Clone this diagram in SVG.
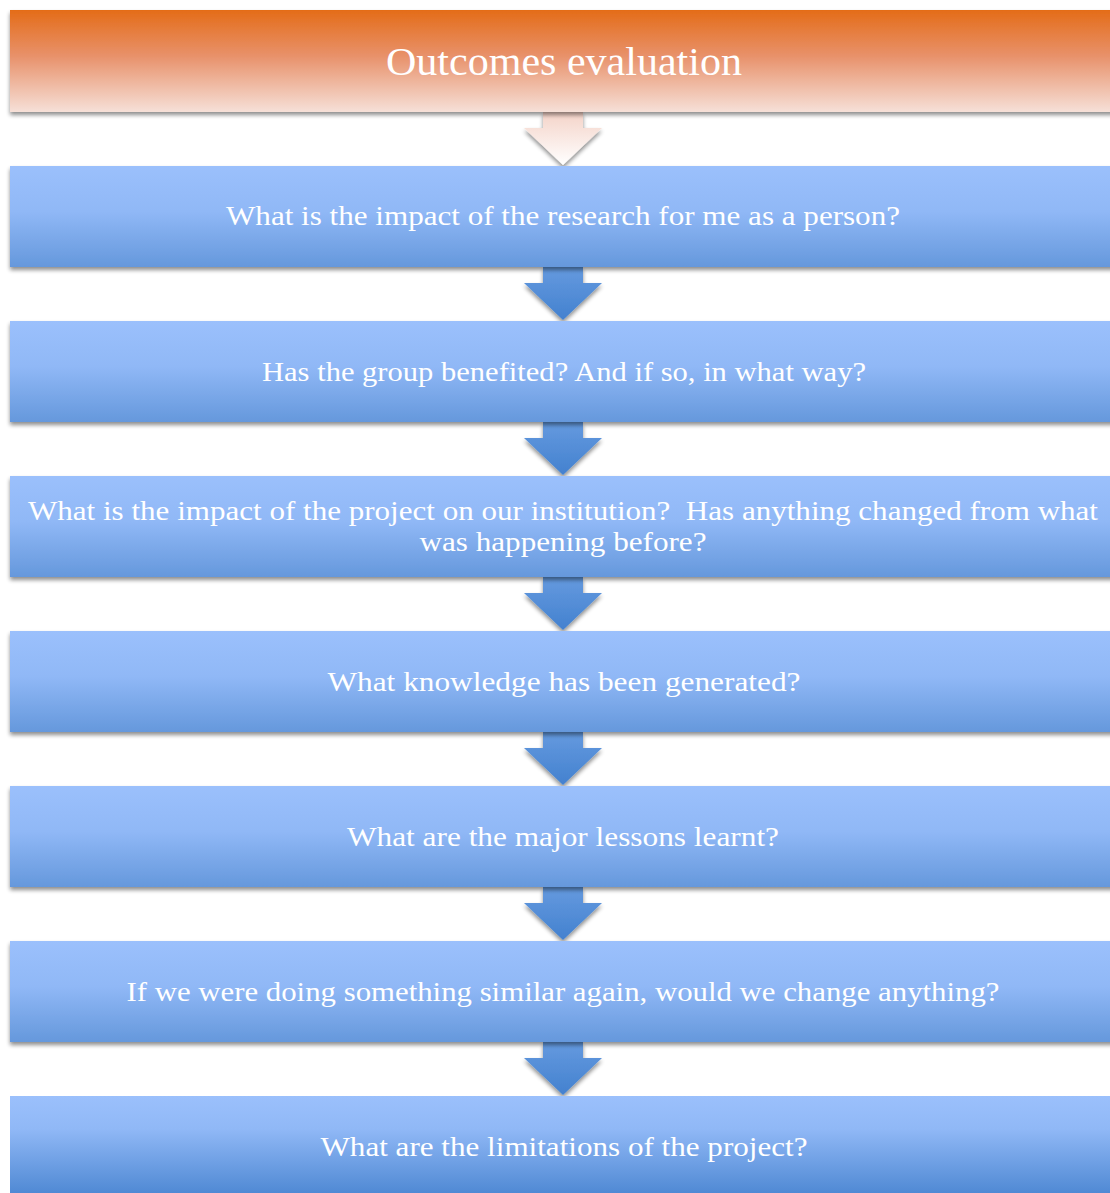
<svg xmlns="http://www.w3.org/2000/svg" width="1110" height="1193" viewBox="0 0 1110 1193">
  <defs>
    <linearGradient id="gOrange" x1="0" y1="0" x2="0" y2="1">
      <stop offset="0" stop-color="#E46C18"/>
      <stop offset="0.45" stop-color="#E8916A"/>
      <stop offset="1" stop-color="#F6E0D8"/>
    </linearGradient>
    <linearGradient id="gBlue" x1="0" y1="0" x2="0" y2="1">
      <stop offset="0" stop-color="#9BC0FC"/>
      <stop offset="0.45" stop-color="#90B8F6"/>
      <stop offset="1" stop-color="#6598DC"/>
    </linearGradient>
    <linearGradient id="gBlueLast" x1="0" y1="0" x2="0" y2="1">
      <stop offset="0" stop-color="#9BC0FC"/>
      <stop offset="0.3" stop-color="#90B8F6"/>
      <stop offset="1" stop-color="#4380CD"/>
    </linearGradient>
    <linearGradient id="gArrowTop" x1="0" y1="0" x2="0" y2="1">
      <stop offset="0" stop-color="#F4D3C8"/>
      <stop offset="1" stop-color="#FFFFFF"/>
    </linearGradient>
    <linearGradient id="gArrowBlue" x1="0" y1="0" x2="0" y2="1">
      <stop offset="0" stop-color="#659ADF"/>
      <stop offset="1" stop-color="#4381CF"/>
    </linearGradient>
    <filter id="shadow" x="-5%" y="-20%" width="110%" height="150%">
      <feGaussianBlur in="SourceAlpha" stdDeviation="2.2"/>
      <feOffset dx="0" dy="3" result="b"/>
      <feComponentTransfer><feFuncA type="linear" slope="0.45"/></feComponentTransfer>
      <feMerge><feMergeNode/><feMergeNode in="SourceGraphic"/></feMerge>
    </filter>
    <path id="arrow" d="M543,0 H583 V16 H602 L563,53 L524,16 H543 Z"/>
  </defs>
  <style>
    .box { fill: url(#gBlue); filter: url(#shadow); }
    .lbl { font-family: "Liberation Serif", "DejaVu Serif", serif; font-size: 28px; fill: #FFFFFF; text-anchor: middle; }
    .title { font-family: "Liberation Serif", "DejaVu Serif", serif; font-size: 40px; fill: #FFFFFF; text-anchor: middle; }
    .arr { fill: url(#gArrowBlue); filter: url(#shadow); }
  </style>

  <rect width="1110" height="1193" fill="#FFFFFF"/>

  <!-- connectors between stages -->
  <g id="connectors">
    <use href="#arrow" y="112" style="fill:url(#gArrowTop);filter:url(#shadow)"/>
    <use href="#arrow" y="267" class="arr"/>
    <use href="#arrow" y="422" class="arr"/>
    <use href="#arrow" y="577" class="arr"/>
    <use href="#arrow" y="732" class="arr"/>
    <use href="#arrow" y="887" class="arr"/>
    <use href="#arrow" y="1042" class="arr"/>
  </g>

  <g id="n0">
    <rect x="10" y="10" width="1110" height="102" fill="url(#gOrange)" filter="url(#shadow)"/>
    <text class="title" x="564" y="75" textLength="356" lengthAdjust="spacingAndGlyphs">Outcomes evaluation</text>
  </g>
  <g id="n1">
    <rect class="box" x="10" y="166" width="1110" height="101"/>
    <text class="lbl" x="563" y="225" textLength="674" lengthAdjust="spacingAndGlyphs">What is the impact of the research for me as a person?</text>
  </g>
  <g id="n2">
    <rect class="box" x="10" y="321" width="1110" height="101"/>
    <text class="lbl" x="564" y="381" textLength="604" lengthAdjust="spacingAndGlyphs">Has the group benefited? And if so, in what way?</text>
  </g>
  <g id="n3">
    <rect class="box" x="10" y="476" width="1110" height="101"/>
    <text class="lbl" x="563" y="520" textLength="1070" lengthAdjust="spacingAndGlyphs" xml:space="preserve">What is the impact of the project on our institution?  Has anything changed from what</text>
    <text class="lbl" x="563" y="551" textLength="287" lengthAdjust="spacingAndGlyphs">was happening before?</text>
  </g>
  <g id="n4">
    <rect class="box" x="10" y="631" width="1110" height="101"/>
    <text class="lbl" x="564" y="691" textLength="473" lengthAdjust="spacingAndGlyphs">What knowledge has been generated?</text>
  </g>
  <g id="n5">
    <rect class="box" x="10" y="786" width="1110" height="101"/>
    <text class="lbl" x="563" y="846" textLength="432" lengthAdjust="spacingAndGlyphs">What are the major lessons learnt?</text>
  </g>
  <g id="n6">
    <rect class="box" x="10" y="941" width="1110" height="101"/>
    <text class="lbl" x="563" y="1001" textLength="873" lengthAdjust="spacingAndGlyphs">If we were doing something similar again, would we change anything?</text>
  </g>
  <g id="n7">
    <rect x="10" y="1096" width="1110" height="110" fill="url(#gBlueLast)"/>
    <text class="lbl" x="564" y="1156" textLength="487" lengthAdjust="spacingAndGlyphs">What are the limitations of the project?</text>
  </g>
</svg>
